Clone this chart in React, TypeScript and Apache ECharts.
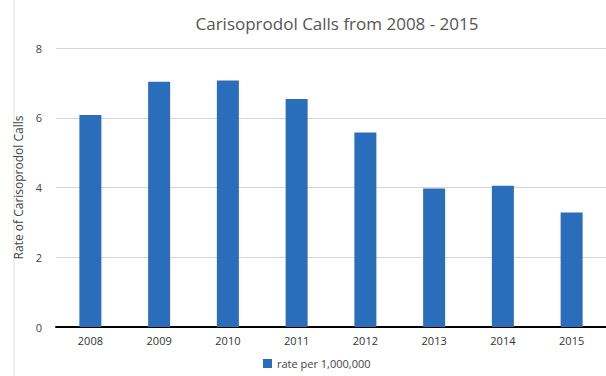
import React, { useEffect, useRef } from "react";
import * as echarts from "echarts";

const years = ["2008", "2009", "2010", "2011", "2012", "2013", "2014", "2015"];
const rates = [6.08, 7.03, 7.07, 6.54, 5.58, 3.97, 4.05, 3.28];
const seriesName = "rate per 1,000,000";
const titleText = "Carisoprodol Calls from 2008 - 2015";
const yAxisName = "Rate of Carisoprodol Calls";

export default function App() {
  const ref = useRef<HTMLDivElement>(null);
  useEffect(() => {
    if (!ref.current) return;
    const chart = echarts.init(ref.current, undefined, { renderer: "svg" });
    chart.setOption({
      animation: false,
      backgroundColor: "#ffffff",
      title: {
        text: titleText,
        left: 332,
        textAlign: "center",
        top: 10,
        textStyle: { fontFamily: "Open Sans", fontSize: 17, fontWeight: "normal", color: "#555555" },
      },
      legend: {
        data: [seriesName],
        left: 263,
        top: 358,
        padding: 0,
        itemWidth: 9,
        itemHeight: 9,
        itemGap: 6,
        icon: "rect",
        textStyle: { fontFamily: "Open Sans", fontSize: 11, color: "#444444" },
      },
      graphic: [
        {
          type: "line",
          shape: { x1: 14, y1: 0, x2: 14, y2: 376 },
          style: { stroke: "#e0e0e0", lineWidth: 1 },
        },
      ],
      grid: { left: 56, top: 48, width: 554, height: 279, containLabel: false },
      xAxis: {
        type: "category",
        data: years,
        axisTick: { show: false },
        axisLine: { show: true, lineStyle: { color: "#000000", width: 2 } },
        axisLabel: { fontFamily: "Open Sans", fontSize: 11, color: "#333333", margin: 8 },
      },
      yAxis: {
        type: "value",
        min: 0,
        max: 8,
        interval: 2,
        name: yAxisName,
        nameLocation: "middle",
        nameGap: 28,
        nameTextStyle: { fontFamily: "Open Sans", fontSize: 12, color: "#444444" },
        axisLine: { show: false },
        axisTick: { show: false },
        axisLabel: { fontFamily: "Open Sans", fontSize: 11, color: "#444444", margin: 14 },
        splitLine: { lineStyle: { color: "#d6d6d6", width: 1 } },
      },
      series: [
        {
          name: seriesName,
          type: "bar",
          data: rates,
          barWidth: 22,
          itemStyle: { color: "#2a6ebb" },
        },
      ],
    });
    return () => chart.dispose();
  }, []);
  return (
    <div
      ref={ref}
      style={{ position: "fixed", left: 0, top: 0, width: 606, height: 376 }}
    />
  );
}
